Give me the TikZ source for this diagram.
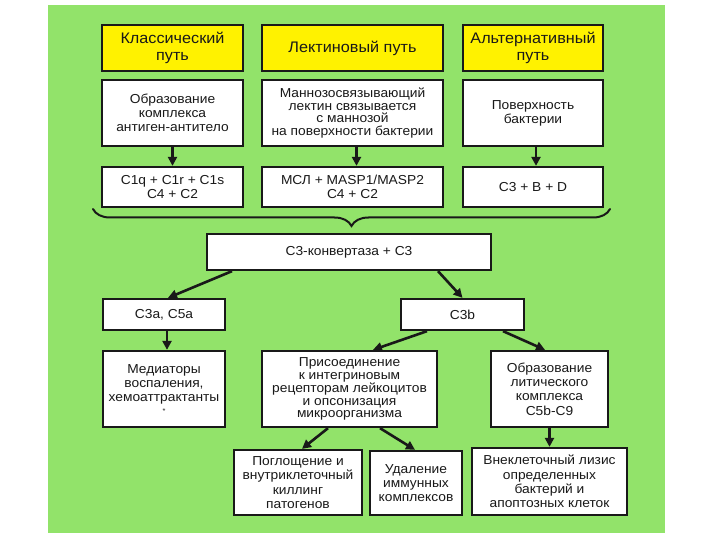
\documentclass[tikz,border=0pt]{standalone}
\usepackage{fontspec}
\setmainfont{Liberation Sans}[FakeStretch=1.06]
\usetikzlibrary{arrows.meta,decorations.pathreplacing}
\definecolor{bggreen}{RGB}{146,227,106}
\definecolor{titleyellow}{RGB}{255,242,0}
\definecolor{ink}{RGB}{25,25,25}
\begin{document}
\begin{tikzpicture}[x=1pt,y=-1pt,
  box/.style={draw=ink, line width=2.3pt, fill=white, align=center, inner sep=0pt,
    font=\fontsize{13}{14.2}\selectfont, text=ink},
  titlebox/.style={box, fill=titleyellow, font=\fontsize{15.3}{16.2}\selectfont},
  tight/.style={font=\fontsize{13}{12.9}\selectfont},
  arr/.style={draw=ink, line width=2.6pt, -{Triangle[length=9pt,width=9pt]}},
  bracestyle/.style={draw=ink, line width=2pt, line cap=round, decorate,
    decoration={brace, mirror, amplitude=17pt}}]
\useasboundingbox (0,0) rectangle (720,540);
\fill[white] (0,0) rectangle (720,540);
\fill[bggreen] (48,5) rectangle (665,533);

% row 1
\node[titlebox, minimum width=141pt, minimum height=46pt] (t1) at (172.5,48) {Классический\\путь};
\node[titlebox, minimum width=181pt, minimum height=46pt] (t2) at (352.5,48) {Лектиновый путь};
\node[titlebox, minimum width=140pt, minimum height=46pt] (t3) at (533,48) {Альтернативный\\путь};
% row 2
\node[box, minimum width=141pt, minimum height=66pt] (a1) at (172.5,113) {Образование\\комплекса\\антиген-антитело};
\node[box, tight, minimum width=181pt, minimum height=66pt] (a2) at (352.5,113) {Маннозосвязывающий\\лектин связывается\\с маннозой\\на поверхности бактерии};
\node[box, minimum width=140pt, minimum height=66pt] (a3) at (533,113) {Поверхность\\бактерии};
% row 3
\node[box, minimum width=141pt, minimum height=40pt] (b1) at (172.5,187) {C1q + C1r + C1s\\C4 + C2};
\node[box, minimum width=181pt, minimum height=40pt] (b2) at (352.5,187) {МСЛ + MASP1/MASP2\\C4 + C2};
\node[box, minimum width=140pt, minimum height=40pt] (b3) at (533,187) {C3 + B + D};

\draw[arr] (a1.south) -- (b1.north);
\draw[arr] ([xshift=4pt]a2.south) -- ([xshift=4pt]b2.north);
\draw[arr] ([xshift=3pt]a3.south) -- ([xshift=3pt]b3.north);

% brace
\coordinate (brL) at (93,209);
\coordinate (brR) at (610,209);
\draw[bracestyle] (brL) -- (brR);

% C3 convertase
\node[box, minimum width=284pt, minimum height=36pt] (c3) at (349,252) {C3-конвертаза + C3};
\node[box, minimum width=122pt, minimum height=31pt] (c3a) at (164,314.5) {C3a, C5a};
\node[box, minimum width=123pt, minimum height=31pt] (c3b) at (462.5,314.5) {C3b};

\draw[arr] ([xshift=-117pt]c3.south) -- ([xshift=4pt]c3a.north);
\draw[arr] ([xshift=89pt]c3.south) -- (c3b.north);

% row 5
\node[box, minimum width=122pt, minimum height=76pt] (med) at (164,389) {Медиаторы\\воспаления,\\хемоаттрактанты\\[-2pt]{\scriptsize *}};
\node[box, tight, minimum width=175pt, minimum height=76pt] (pris) at (349.5,389) {Присоединение\\к интегриновым\\рецепторам лейкоцитов\\и опсонизация\\микроорганизма};
\node[box, minimum width=117pt, minimum height=76pt] (lit) at (549.5,389) {Образование\\литического\\комплекса\\C5b-C9};

\draw[arr] ([xshift=3pt]c3a.south) -- ([xshift=3pt]med.north);
\draw[arr] ([xshift=-35.5pt]c3b.south) -- ([xshift=23.5pt]pris.north);
\draw[arr] ([xshift=40.5pt]c3b.south) -- ([xshift=-4.5pt]lit.north);

% row 6
\node[box, minimum width=128pt, minimum height=65pt] (pog) at (298,482.5) {Поглощение и\\внутриклеточный\\киллинг\\патогенов};
\node[box, minimum width=92pt, minimum height=64pt] (ud) at (416,483) {Удаление\\иммунных\\комплексов};
\node[box, minimum width=155pt, minimum height=67pt] (vne) at (549.5,481.5) {Внеклеточный лизис\\определенных\\бактерий и\\апоптозных клеток};

\draw[arr] ([xshift=-21.5pt]pris.south) -- ([xshift=4pt]pog.north);
\draw[arr] ([xshift=30.5pt]pris.south) -- ([xshift=-1pt]ud.north);
\draw[arr] (lit.south) -- (lit.south |- vne.north);
\end{tikzpicture}
\end{document}
